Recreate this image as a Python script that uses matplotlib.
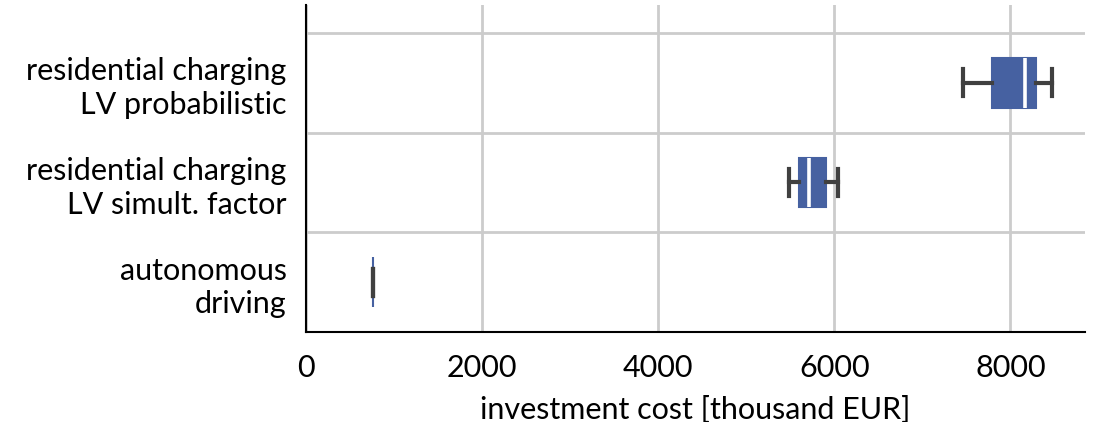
import matplotlib.pyplot as plt
from matplotlib.ticker import FixedLocator

plt.rcParams['font.family'] = ['Lato', 'DejaVu Sans']

categories = ['autonomous\ndriving',
              'residential charging\nLV simult. factor',
              'residential charging\nLV probabilistic']
whislo = [761, 5487, 7456]
q1 = [761, 5601, 7788]
med = [761, 5714, 8160]
q3 = [761, 5907, 8295]
whishi = [761, 6047, 8472]

stats = []
for i in range(len(categories)):
    stats.append(dict(whislo=whislo[i], q1=q1[i], med=med[i], q3=q3[i],
                      whishi=whishi[i], fliers=[], label=categories[i]))

blue = '#4661a1'
grey = '#404040'

fig = plt.figure(figsize=(10.94, 4.22), dpi=100)
ax = fig.add_axes([0.2797, 0.2133, 0.9918 - 0.2797, 0.988 - 0.2133])

bp = ax.bxp(stats, positions=range(len(categories)), vert=False, widths=0.5,
            patch_artist=True, showfliers=False,
            boxprops=dict(facecolor=blue, edgecolor=blue, linewidth=1.5, zorder=3),
            medianprops=dict(color='white', linewidth=2.6, zorder=4),
            whiskerprops=dict(color=grey, linewidth=3, zorder=5),
            capprops=dict(color=grey, linewidth=3, zorder=5),
            capwidths=0.27)

# median coincides with the box for autonomous driving
for i in range(len(categories)):
    if q1[i] == q3[i]:
        bp['medians'][i].set_visible(False)

ax.set_xlim(0, 8847)
ax.set_ylim(-0.5, 2.78)
ax.set_xticks([0, 2000, 4000, 6000, 8000])
ax.yaxis.set_minor_locator(FixedLocator([0.5, 1.5, 2.5]))
ax.grid(axis='x', which='major', color='#cccccc', linewidth=2, zorder=0)
ax.grid(axis='y', which='minor', color='#cccccc', linewidth=2, zorder=0)
ax.set_axisbelow(True)

for s in ['top', 'right']:
    ax.spines[s].set_visible(False)
for s in ['left', 'bottom']:
    ax.spines[s].set_color('black')
    ax.spines[s].set_linewidth(1.5)

ax.tick_params(axis='both', which='both', length=0, labelsize=22)
ax.tick_params(axis='x', pad=16)
ax.tick_params(axis='y', pad=14)
ax.set_yticklabels(categories, linespacing=1.25)
for t in ax.get_yticklabels():
    t.set_horizontalalignment('right')
ax.set_xlabel('investment cost [thousand EUR]', fontsize=22, labelpad=10)

fig.savefig('out.png', dpi=100)
